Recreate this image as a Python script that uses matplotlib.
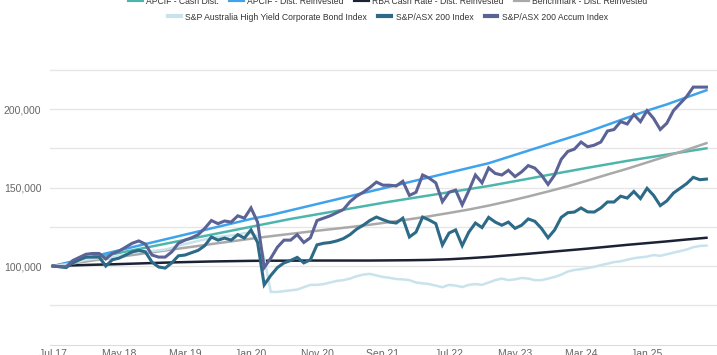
import numpy as np
import pandas as pd
import matplotlib
matplotlib.use("Agg")
import matplotlib.pyplot as plt
from matplotlib import font_manager
from matplotlib.ticker import FixedLocator, FuncFormatter

# monthly points, Jul 2017 .. Oct 2025 (values in $ thousands)
months = pd.date_range("2017-07-01", periods=100, freq="MS")
tick_idx = list(range(0, 100, 10))

# smooth series were read every third month
q_idx = list(range(0, 100, 3))

cash_dist = [100, 102.5, 105, 107.5, 110, 112.5, 115, 117.5, 120, 122.5,
             125, 127.5, 130, 132.2, 134.4, 136.6, 138.8, 141, 143, 145,
             147, 149, 151, 153.3, 155.6, 158, 160.3, 162.6, 164.8, 167,
             169, 171, 173, 175]
dist_reinv = [100, 103, 106, 109, 112, 115, 118, 121, 124, 127,
              130, 132.5, 135.5, 138.5, 141.5, 144.5, 147.5, 150.5, 153.5, 156.5,
              159.5, 162.5, 165.5, 169.5, 173.5, 177.5, 181.5, 185.5, 190, 194.5,
              199, 203, 207.5, 212]
rba_cash = [100, 100.4, 100.8, 101.1, 101.5, 101.9, 102.3, 102.6, 102.9, 103.1,
            103.3, 103.4, 103.4, 103.5, 103.5, 103.5, 103.5, 103.6, 103.7, 103.9,
            104.3, 105, 105.8, 106.8, 107.8, 108.9, 110, 111.1, 112.3, 113.5,
            114.6, 115.7, 116.9, 118]
benchmark = [100, 101.7, 103.5, 105.2, 107, 108.7, 110.5, 112.2, 114, 115.7,
             117.4, 119, 120.5, 122, 123.4, 124.8, 126.3, 128, 129.8, 131.7,
             133.8, 136, 138.5, 141.3, 144.3, 147.5, 150.8, 154.5, 158.3, 162,
             166, 170, 174, 178.3]

hy_bond = [100, 100.5, 101, 102, 103, 104, 104.5, 105, 105, 105.5,
           106.5, 107.5, 108.5, 109, 109.5, 109.5, 110, 110.5, 111.5, 113,
           114, 115, 116, 117, 118, 118.5, 119, 119.5, 120, 121,
           121, 119, 105, 83.5, 83.5, 84, 84.5, 85, 86.5, 88,
           88, 88.5, 89.5, 90.5, 91, 92, 93.5, 94.5, 95, 94,
           93, 92.5, 91.7, 91.5, 91, 89.5, 89, 88.5, 87.5, 86.5,
           88, 87.5, 86.6, 88, 88.5, 88, 89.5, 91, 92, 91,
           91.5, 92.4, 92, 91, 91, 92, 93, 94.5, 96.5, 97.5,
           98, 98.7, 99.5, 100.6, 101.5, 102.5, 103, 104, 105, 105.5,
           106, 107, 106.5, 107.5, 108.5, 109.5, 110.5, 112, 112.8, 113]
asx200 = [100, 99.5, 99, 102, 104, 105.7, 105.7, 105.7, 100, 104,
          105, 107, 109, 110, 109, 102.5, 99.4, 98.7, 102, 106.5,
          107, 108.5, 110, 113, 118.5, 116.5, 117.8, 116.5, 120, 117.8,
          123, 115, 88, 94, 99, 102, 103.5, 105.5, 102, 104,
          113.5, 114.5, 115, 116, 117.5, 120, 123.5, 126, 129, 131.2,
          129.5, 128, 127.4, 130.5, 118.5, 121.6, 131.2, 129.3, 127, 113.4,
          121, 123, 113, 121.6, 127.4, 124.5, 131, 128, 126, 128,
          124, 126, 130, 128.5, 124, 118, 123, 131, 134, 134.4,
          137, 134.5, 134.4, 137, 140.8, 140.8, 144.5, 143.3, 147.5, 143,
          149.5, 145, 138.5, 141.5, 146.5, 149.5, 152.5, 156.5, 155, 155.4]
asx200_accum = [100, 99.7, 99.5, 103.5, 105.5, 107.5, 108, 108, 104.5, 108,
                109.5, 112, 114.5, 116, 114, 107, 105.7, 105.7, 109, 114.5,
                116.5, 118, 120, 124, 129, 127, 128.7, 128, 132, 130.5,
                137, 128, 99, 105, 112, 116.5, 116.5, 120, 115, 118,
                129, 130.5, 132, 134, 136, 141, 144.5, 147, 150, 153.5,
                151.5, 151.5, 151, 154, 145, 147, 158, 156, 153, 141,
                147, 148.4, 139, 148, 158, 153, 162.5, 159, 158, 161,
                157, 160, 164, 162.4, 158, 152, 158, 168, 173, 174.5,
                179, 176, 177, 179, 186, 187, 192, 190.5, 196.5, 192,
                199, 194, 187, 191, 199, 203.5, 208, 214, 214, 214]

names = {f.name for f in font_manager.fontManager.ttflist}
legend_font = "Liberation Sans Narrow" if "Liberation Sans Narrow" in names else "Liberation Sans"
legend_size = 7.5 if legend_font == "Liberation Sans Narrow" else 6.2
plt.rcParams["font.family"] = ["Liberation Sans", "DejaVu Sans"]

fig = plt.figure(figsize=(7.17, 3.55), dpi=100)
ax = fig.add_axes([50 / 717, 10.5 / 355, 667 / 717, 282.5 / 355])

x = np.arange(len(months))
xq = np.array(q_idx)

series = [
    (xq, cash_dist, "APCIF - Cash Dist.", "#4db6ac", 1.8),
    (xq, dist_reinv, "APCIF - Dist. Reinvested", "#3fa3ec", 1.8),
    (xq, rba_cash, "RBA Cash Rate - Dist. Reinvested", "#1c2236", 1.8),
    (xq, benchmark, "Benchmark - Dist. Reinvested", "#a9a9a9", 1.8),
    (x, hy_bond, "S&P Australia High Yield Corporate Bond Index", "#c8e3ec", 1.8),
    (x, asx200, "S&P/ASX 200 Index", "#2c6a87", 2.2),
    (x, asx200_accum, "S&P/ASX 200 Accum Index", "#5b6396", 2.2),
]
lines = []
for xs, ys, lab, col, lw in series:
    ln, = ax.plot(xs, np.array(ys) * 1000, color=col, lw=lw, label=lab,
                  solid_joinstyle="miter")
    lines.append(ln)

ax.set_xlim(-0.45, 100.6)
ax.set_ylim(50000, 230000)

ax.xaxis.set_major_locator(FixedLocator(tick_idx))
ax.set_xticklabels([months[i].strftime("%b %y") for i in tick_idx])
ax.yaxis.set_major_locator(FixedLocator([100000, 150000, 200000]))
ax.yaxis.set_minor_locator(FixedLocator([75000, 125000, 175000, 225000]))
ax.yaxis.set_major_formatter(FuncFormatter(lambda v, p: f"{v:,.0f}"))
ax.grid(axis="y", which="both", color="#e6e6e6", lw=1)
ax.set_axisbelow(True)

ax.tick_params(axis="both", which="both", length=0, labelsize=7.5, labelcolor="#666666")
ax.tick_params(axis="y", pad=6.3)
ax.tick_params(axis="x", pad=3)
for s in ["top", "right", "left"]:
    ax.spines[s].set_visible(False)
ax.spines["bottom"].set_color("#dcdcdc")

leg_kw = dict(loc="center", frameon=False, handlelength=1.5, handletextpad=0.5,
              columnspacing=1.3, prop={"family": legend_font, "size": legend_size},
              labelcolor="#333333")
leg1 = fig.legend(lines[:4], [l.get_label() for l in lines[:4]], ncol=4,
                  bbox_to_anchor=(388 / 717, 1 - 1 / 355), **leg_kw)
leg2 = fig.legend(lines[4:], [l.get_label() for l in lines[4:]], ncol=3,
                  bbox_to_anchor=(388 / 717, 1 - 17 / 355), **leg_kw)
for lg in (leg1, leg2):
    for h in lg.legend_handles:
        h.set_linewidth(3)

fig.savefig("out.png", dpi=100)
